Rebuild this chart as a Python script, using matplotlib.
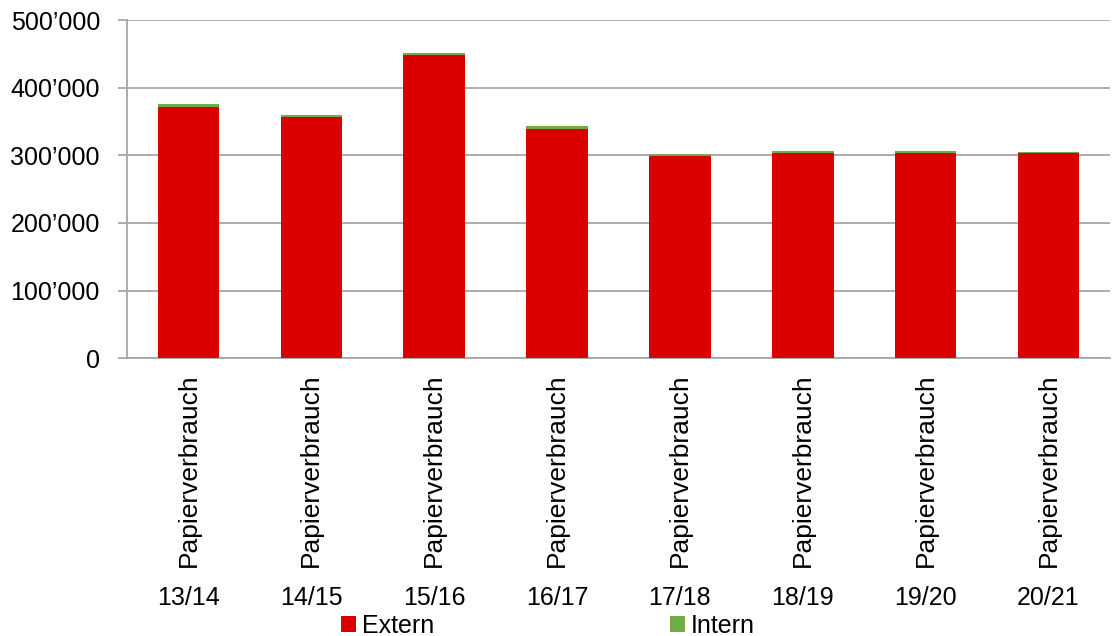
import matplotlib.pyplot as plt
import matplotlib.transforms as mtransforms
from matplotlib.ticker import FuncFormatter

plt.rcParams['font.family'] = ['Liberation Sans', 'DejaVu Sans']

jahre = ['13/14', '14/15', '15/16', '16/17', '17/18', '18/19', '19/20', '20/21']
extern = [371700, 356500, 448000, 338700, 299200, 303200, 304000, 303600]
intern = [4000, 3300, 3100, 4400, 2900, 2900, 2800, 2000]

rot = '#DA0000'
gruen = '#70AD47'
grau = '#A6A6A6'

fig = plt.figure(figsize=(11.12, 6.36), dpi=100)
ax = fig.add_axes([0.1142, 0.437, 0.884, 0.531])

x = list(range(len(jahre)))
ax.bar(x, extern, width=0.5, color=rot, label='Extern', zorder=3)
ax.bar(x, intern, width=0.5, bottom=extern, color=gruen, label='Intern', zorder=3)

ax.set_xlim(-0.5, len(jahre) - 0.5)
ax.set_ylim(0, 500000)
ax.set_yticks(range(0, 500001, 100000))
ax.yaxis.set_major_formatter(FuncFormatter(lambda v, p: f'{int(v):,}'.replace(',', '\u2019')))
ax.grid(axis='y', color=grau, linewidth=1.3, zorder=0)

for s in ['top', 'right']:
    ax.spines[s].set_visible(False)
ax.spines['left'].set_color(grau)
ax.spines['bottom'].set_color(grau)
ax.spines['left'].set_linewidth(1.3)
ax.spines['bottom'].set_linewidth(1.3)

ax.tick_params(axis='y', length=6.5, width=1.3, color=grau, pad=13, labelsize=18)
ax.tick_params(axis='x', length=0, pad=11, labelsize=19)
ax.set_xticks(x)
ax.set_xticklabels(['Papierverbrauch'] * len(jahre), rotation=90, va='top', ha='center')

# Jahreszahlen unter den gedrehten Beschriftungen
trans = mtransforms.blended_transform_factory(ax.transData, fig.transFigure)
for i, j in enumerate(jahre):
    ax.text(i, 1 - 598 / 636, j, transform=trans, ha='center', va='center', fontsize=18)

fig.legend(loc='lower center', bbox_to_anchor=(548 / 1112, -0.038), ncol=2, frameon=False,
           fontsize=18, handlelength=0.6, handleheight=0.6, handletextpad=0.25,
           columnspacing=9.4)

fig.savefig('out.png', dpi=100)
